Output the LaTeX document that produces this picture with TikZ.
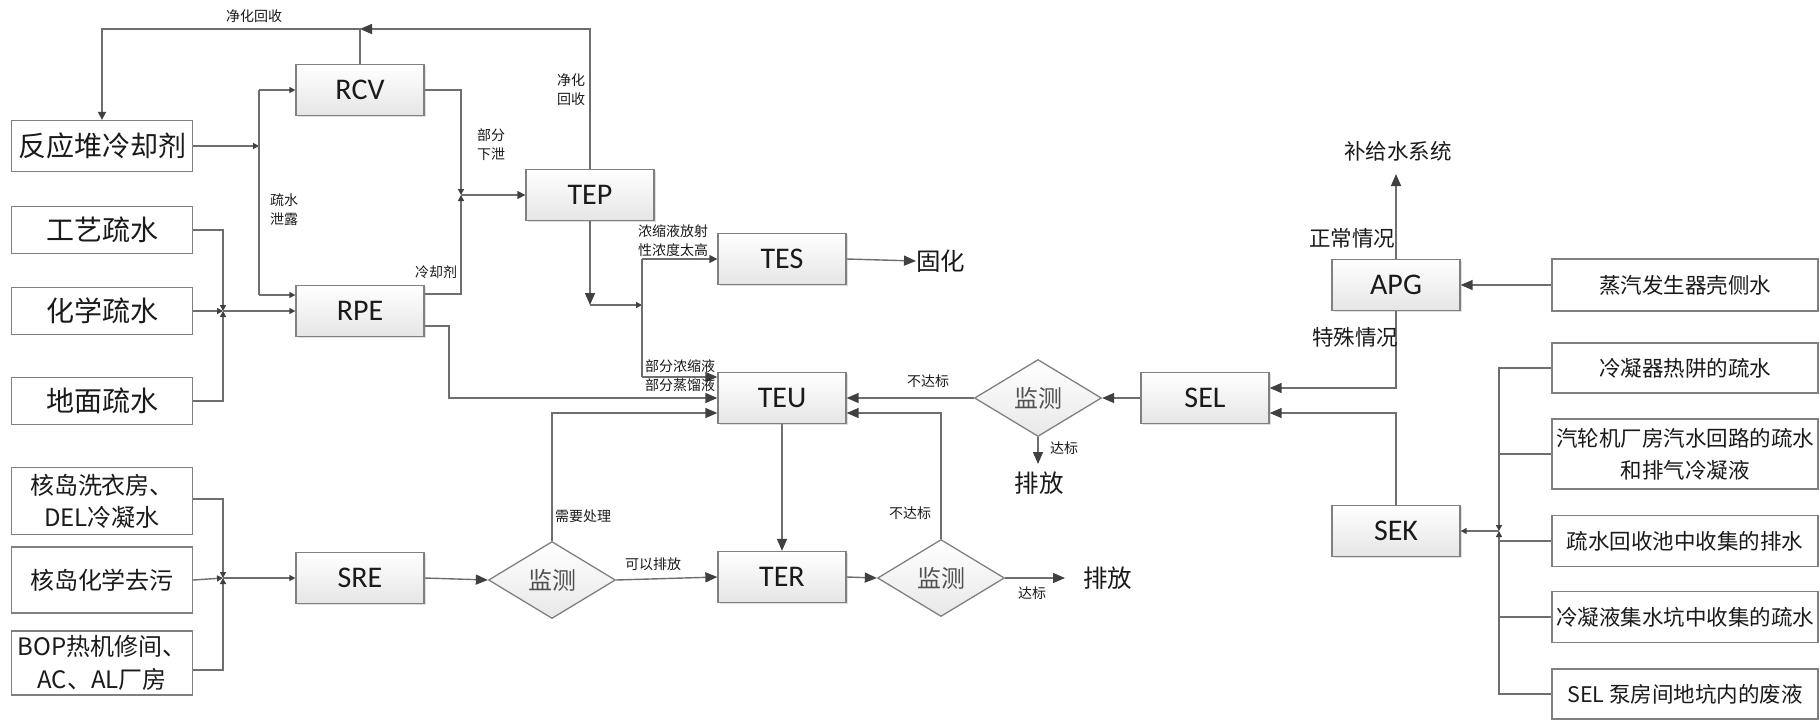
\documentclass[tikz,border=0pt]{standalone}
\usepackage{fontspec}
\setmainfont{Carlito}
\newfontfamily\cjk{Noto Sans CJK SC}
\usetikzlibrary{shapes.geometric,arrows.meta,shadows}
\newcommand\myfs[2]{\fontsize{#1}{#2}\selectfont}
\definecolor{linegray}{HTML}{6E6E6E}
\definecolor{arrowgray}{HTML}{404040}
\definecolor{boxgray}{HTML}{808080}
\definecolor{txt}{HTML}{1A1A1A}
\definecolor{dtxt}{HTML}{505050}
\begin{document}
\begin{tikzpicture}[x=1pt,y=-1pt,
  line/.style={draw=linegray,line width=1.4pt},
  big/.style={line,-{Triangle[length=12pt,width=10pt,color=arrowgray]}},
  med/.style={line,-{Triangle[length=8pt,width=8pt,color=arrowgray]}},
  sml/.style={line,-{Triangle[length=6pt,width=6pt,color=arrowgray]}},
  sysbox/.style={draw=boxgray,line width=1.3pt,top color=white,bottom color=gray!20,
    minimum width=128pt,minimum height=51pt,inner sep=0pt,text=txt,
    font=\myfs{30}{30},drop shadow={shadow xshift=1.5pt,shadow yshift=-1.5pt,opacity=0.25}},
  srcbox/.style={draw=boxgray,line width=1.3pt,fill=white,inner sep=0pt,text=txt,
    minimum width=181pt,align=center},
  rbox/.style={draw=boxgray,line width=1.3pt,fill=white,inner sep=0pt,text=txt,
    minimum width=266pt,align=center,font=\cjk\myfs{21.5}{32}},
  mon/.style={diamond,aspect=1.65,minimum width=127pt,minimum height=77pt,inner sep=0pt,
    draw=boxgray,line width=1.3pt,top color=white,bottom color=gray!18,
    text=dtxt,font=\cjk\myfs{24}{24}},
  lbl/.style={inner sep=0pt,text=txt,font=\cjk\myfs{14}{19},align=center},
  mlbl/.style={inner sep=0pt,text=txt,font=\cjk\myfs{21.5}{21.5}},
  blbl/.style={inner sep=0pt,text=txt,font=\cjk\myfs{24.5}{24.5}}
]
\useasboundingbox (0,0) rectangle (1820,721);

% ---------- source boxes (left)
\node[srcbox,minimum height=51pt,font=\cjk\myfs{28}{28}] (R) at (102,146) {反应堆冷却剂};
\node[srcbox,minimum height=47pt,font=\cjk\myfs{28}{28}] (GY) at (102,230) {工艺疏水};
\node[srcbox,minimum height=47pt,font=\cjk\myfs{28}{28}] (HX) at (102,311) {化学疏水};
\node[srcbox,minimum height=47pt,font=\cjk\myfs{28}{28}] (DM) at (102,401) {地面疏水};
\node[srcbox,minimum height=67pt,font=\cjk\myfs{24}{32}] (XY) at (102,501) {核岛洗衣房、\\DEL冷凝水};
\node[srcbox,minimum height=66pt,font=\cjk\myfs{24}{24}] (HQ) at (102,580) {核岛化学去污};
\node[srcbox,minimum height=64pt,font=\cjk\myfs{24}{33}] (BOP) at (102,663) {BOP热机修间、\\AC、AL厂房};

% ---------- system boxes
\node[sysbox] (RCV) at (360,90) {RCV};
\node[sysbox] (RPE) at (360,311) {RPE};
\node[sysbox] (TEP) at (590,195) {TEP};
\node[sysbox] (TES) at (782,259) {TES};
\node[sysbox] (TEU) at (782,398) {TEU};
\node[sysbox] (TER) at (782,577) {TER};
\node[sysbox] (SRE) at (360,578) {SRE};
\node[sysbox] (SEL) at (1205,398) {SEL};
\node[sysbox] (APG) at (1396,285) {APG};
\node[sysbox] (SEK) at (1396,531) {SEK};

% ---------- monitoring diamonds
\node[mon] (M0) at (552,580) {监测};
\node[mon] (M1) at (1038,398) {监测};
\node[mon] (M2) at (941,578) {监测};

% ---------- right boxes
\node[rbox,minimum height=52pt] (ZQ) at (1685,285) {蒸汽发生器壳侧水};
\node[rbox,minimum height=50pt] (L1) at (1685,368) {冷凝器热阱的疏水};
\node[rbox,minimum height=70pt] (L2) at (1685,454) {汽轮机厂房汽水回路的疏水\\和排气冷凝液};
\node[rbox,minimum height=51pt] (L3) at (1685,541) {疏水回收池中收集的排水};
\node[rbox,minimum height=51pt] (L4) at (1685,617) {冷凝液集水坑中收集的疏水};
\node[rbox,minimum height=50pt] (L5) at (1685,694) {SEL 泵房间地坑内的废液};

% ---------- end texts
\node[blbl,anchor=west] (GH) at (916,261) {固化};
\node[blbl] (PF1) at (1039,483) {排放};
\node[blbl,anchor=west] (PF2) at (1083,578) {排放};
\node[mlbl] (BJ) at (1398,151) {补给水系统};

% ---------- helper coordinates
\coordinate (jtop) at (360,29);
\coordinate (jR) at (259,146);
\coordinate (jRa) at (259,90);
\coordinate (jRb) at (259,295);
\coordinate (jM) at (223,311);
\coordinate (jT) at (461,195);
\coordinate (yA) at (0,294);
\coordinate (yB) at (0,326);
\coordinate (kB) at (449,398);
\coordinate (jTb) at (590,305);
\coordinate (bus) at (642,305);
\coordinate (busT) at (642,259);
\coordinate (busB) at (642,377);
\coordinate (kC) at (552,413);
\coordinate (kD) at (941,413);
\coordinate (pf1tip) at (1038,464);
\coordinate (pf2tip) at (1065,578);
\coordinate (bjtip) at (1396,174);
\coordinate (kE) at (1396,388);
\coordinate (kF) at (1396,413);
\coordinate (jK) at (1499,531);
\coordinate (jS) at (223,578);
\coordinate (y499) at (0,499);
\coordinate (y670) at (0,670);

% ---------- top recycle loop
\draw[big] (TEP.north) -- (TEP.north |- jtop) -- (jtop);
\draw[med] (RCV.north) -- (jtop) -- (R.north |- jtop) -- (R.north);

% ---------- reactor coolant to RCV / RPE
\draw[sml] (R.east) -- (jR);
\draw[line] (jRa) -- (jRb);
\draw[sml] (jRa) -- (RCV.west);
\draw[sml] (jRb) -- (RPE.west |- jRb);

% ---------- drains merge into RPE
\draw[sml] (GY.east) -| (jM);
\draw[sml] (DM.east) -| (jM);
\draw[sml] (HX.east) -- (jM);
\draw[sml] (jM) -- (RPE.west |- jM);

% ---------- into TEP
\draw[sml] (RCV.east) -| (jT);
\draw[sml] (RPE.east |- yA) -| (jT);
\draw[med] (jT) -- (TEP.west);

% ---------- TEP outputs
\draw[big] (TEP.south) -- (jTb);
\draw[sml] (jTb) -- (bus);
\draw[line] (busT) -- (busB);
\draw[med] (busT) -- (TES.west);
\draw[big] (busB) -- (TEU.west |- busB);
\draw[big] (TES.east) -- (GH.west);

% ---------- RPE to TEU
\draw[big] (RPE.east |- yB) -| (kB) -- (TEU.west);

% ---------- SRE chain
\draw[sml] (XY.east |- y499) -| (jS);
\draw[sml] (BOP.east |- y670) -| (jS);
\draw[sml] (HQ.east) -- (jS);
\draw[sml] (jS) -- (SRE.west);
\draw[big] (SRE.east) -- (M0.west);
\draw[big] (M0.north) -- (kC) -- (TEU.west |- kC);
\draw[big] (M0.east) -- (TER.west);
\draw[big] (TEU.south) -- (TER.north);
\draw[big] (TER.east) -- (M2.west);
\draw[big] (M2.north) -- (kD) -- (TEU.east |- kD);
\draw[big] (M2.east) -- (pf2tip);

% ---------- SEL chain
\draw[big] (SEL.west) -- (M1.east);
\draw[big] (M1.west) -- (TEU.east);
\draw[big] (M1.south) -- (pf1tip);
\draw[big] (ZQ.west) -- (APG.east);
\draw[big] (APG.north) -- (bjtip);
\draw[big] (APG.south) -- (kE) -- (SEL.east |- kE);
\draw[big] (SEK.north) -- (kF) -- (SEL.east |- kF);

% ---------- SEK collectors
\draw[sml] (L1.west) -| (jK);
\draw[sml] (L5.west) -| (jK);
\draw[line] (L2.west) -- (L2.west -| jK);
\draw[line] (L3.west) -- (L3.west -| jK);
\draw[line] (L4.west) -- (L4.west -| jK);
\draw[sml] (jK) -- (SEK.east);

% ---------- labels
\node[lbl] (t1) at (254,16) {净化回收};
\node[lbl] (t2) at (571,90) {净化\\回收};
\node[lbl] (t3) at (491,145) {部分\\下泄};
\node[lbl] (t4) at (284,210) {疏水\\泄露};
\node[lbl] (t5) at (436,272) {冷却剂};
\node[lbl,align=left,anchor=west] (t6) at (638,241) {浓缩液放射\\性浓度太高};
\node[lbl,align=left,anchor=west] (t7) at (645,376) {部分浓缩液\\部分蒸馏液};
\node[lbl] (t8) at (928,381) {不达标};
\node[lbl] (t9) at (1064,448) {达标};
\node[lbl] (t10) at (583,516) {需要处理};
\node[lbl] (t11) at (653,564) {可以排放};
\node[lbl] (t12) at (910,513) {不达标};
\node[lbl] (t13) at (1032,593) {达标};
\node[mlbl] (t14) at (1352,238) {正常情况};
\node[mlbl] (t15) at (1355,337) {特殊情况};
\end{tikzpicture}
\end{document}
